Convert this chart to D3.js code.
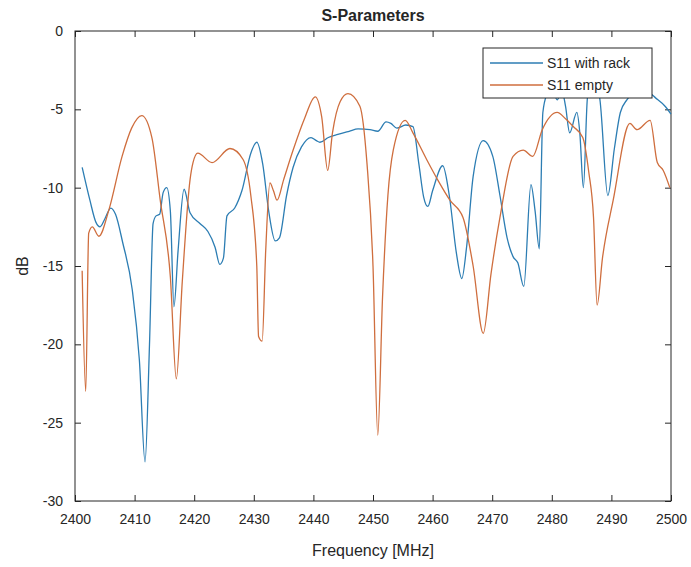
<!DOCTYPE html>
<html>
<head>
<meta charset="utf-8">
<script src="https://cdn.jsdelivr.net/npm/d3@7"></script>
<style>
  body { margin: 0; background: #fff; }
  text { font-family: "Liberation Sans", Arial, sans-serif; fill: #262626; }
</style>
</head>
<body>
<div class="root"></div>
<script>
// S11 with rack
const rackFreq = [2401.2, 2402.5, 2403.5, 2404.2, 2405, 2406, 2406.8, 2408, 2409.6, 2410.8, 2411.75, 2412.5, 2413.1, 2413.6, 2414.2, 2414.8, 2415.4, 2416, 2416.6, 2417.3, 2418.3, 2419.3, 2421, 2422.3, 2423.5, 2424.3, 2424.9, 2425.5, 2426.8, 2428, 2429.5, 2430.5, 2431.5, 2432.5, 2433.6, 2434.3, 2435.5, 2436.6, 2438, 2439.6, 2440.5, 2441.1, 2442.5, 2444.1, 2446, 2447.5, 2449.5, 2450.8, 2452.2, 2453, 2454, 2455.5, 2456.7, 2457.7, 2458.5, 2459.2, 2460, 2461.7, 2462.8, 2464, 2464.9, 2465.7, 2466.8, 2468.5, 2470.1, 2471.3, 2472.5, 2473.5, 2474.3, 2475.3, 2476.5, 2477.2, 2477.9, 2478.5, 2479.2, 2480, 2480.9, 2481.7, 2482.3, 2483, 2484.2, 2484.7, 2485.3, 2486, 2487, 2488, 2489.4, 2490.5, 2491.5, 2492.6, 2494, 2496, 2497.5, 2499, 2500]
const rackDb = [-8.7, -10.8, -12.2, -12.5, -12.0, -11.3, -11.7, -13.5, -16.5, -21, -27.5, -20, -12.3, -11.8, -11.7, -10.3, -10.0, -11.5, -17.6, -14, -10.1, -11.6, -12.3, -12.8, -13.8, -14.9, -14.5, -11.8, -11.3, -10.2, -7.8, -7.1, -8.5, -11.5, -13.4, -13.2, -10.5, -8.7, -7.4, -6.8, -7.0, -7.1, -6.8, -6.6, -6.4, -6.25, -6.3, -6.4, -5.8, -5.9, -6.2, -6.0, -6.1, -8.5, -10.6, -11.2, -10.2, -8.6, -10.5, -14.2, -15.8, -13.8, -9.3, -7.0, -8.0, -10.5, -13.2, -14.4, -14.8, -16.3, -9.8, -11.5, -13.9, -5.2, -4.0, -3.6, -4.4, -3.8, -4.8, -6.5, -5.2, -6.5, -10.0, -4.2, -3.4, -4.2, -10.5, -7.5, -5.2, -4.4, -3.9, -3.9, -4.3, -4.8, -5.3]

// S11 empty
const emptyFreq = [2401.2, 2401.8, 2402.3, 2402.9, 2404, 2405.7, 2407.9, 2409.5, 2411.2, 2412.9, 2414.3, 2416, 2417, 2418, 2419.3, 2419.8, 2420.6, 2423, 2426, 2428.2, 2429.5, 2430.5, 2430.8, 2431.4, 2432, 2432.7, 2433.3, 2433.9, 2435, 2436.6, 2438.5, 2440.3, 2441.4, 2442.4, 2443.2, 2444.5, 2445.8, 2447.8, 2449, 2450, 2450.8, 2451.6, 2452.5, 2453.4, 2455.4, 2456.7, 2459, 2461, 2462.9, 2465.1, 2466.8, 2468.5, 2469.8, 2471.3, 2473.5, 2475.2, 2476.8, 2478.4, 2480.9, 2482.3, 2483.6, 2485.2, 2486.2, 2487, 2487.6, 2488.5, 2490.3, 2493.1, 2494.3, 2496.5, 2497.7, 2498.7, 2499.8]
const emptyDb = [-15.3, -23.0, -12.9, -12.5, -13.1, -11.4, -8.0, -6.2, -5.4, -6.8, -10.8, -15.7, -22.2, -16, -9.5, -8.4, -7.8, -8.4, -7.5, -8.2, -10.5, -15, -19.5, -19.8, -14, -9.7, -10.2, -10.8, -9.5, -7.6, -5.6, -4.2, -5.5, -8.9, -6.5, -4.5, -4.0, -4.8, -8.5, -15, -25.8, -17, -10.5, -7.6, -5.7, -6.5, -8.2, -9.6, -10.8, -11.9, -15, -19.3, -15.5, -11.9, -8.0, -7.6, -8.0, -6.3, -5.2, -5.6, -6.1, -6.8, -9.0, -11.9, -17.5, -14.5, -10.8, -5.9, -6.3, -5.7, -8.4, -8.9, -10.0]

const xTicks = [2400, 2410, 2420, 2430, 2440, 2450, 2460, 2470, 2480, 2490, 2500]
const yTicks = [0, -5, -10, -15, -20, -25, -30]
const seriesNames = ['S11 with rack', 'S11 empty']
const seriesColors = ['#2c7db3', '#cf6e3e']

const margin = { top: 31, right: 20, bottom: 66, left: 75 }
const svgWidth = 691
    , svgHeight = 567
    , graphWidth = svgWidth - margin.left - margin.right
    , graphHeight = svgHeight - margin.top - margin.bottom

const svg = d3.select('.root')
              .append('svg')
              .attr('width', svgWidth)
              .attr('height', svgHeight)

const canvas = svg.append('g')
                  .attr('transform', `translate(${margin.left}, ${margin.top})`)

const scaleX = d3.scaleLinear().domain([2400, 2500]).range([0, graphWidth])
const scaleY = d3.scaleLinear().domain([-30, 0]).range([graphHeight, 0])

// axes, MATLAB style: ticks inward on all four sides
const tickLen = 6
const plain = d => String(d)   // plain hyphen minus like MATLAB
const styleAxis = g => {
  g.select('.domain').remove()
  g.selectAll('line').attr('stroke', '#262626')
  g.selectAll('text').style('font-size', '14px').attr('fill', '#333')
}

canvas.append('g')
      .attr('transform', `translate(0, ${graphHeight})`)
      .call(d3.axisBottom(scaleX).tickValues(xTicks).tickFormat(plain).tickSize(-tickLen).tickPadding(13))
      .call(styleAxis)

canvas.append('g')
      .call(d3.axisTop(scaleX).tickValues(xTicks).tickFormat('').tickSize(-tickLen))
      .call(styleAxis)

canvas.append('g')
      .call(d3.axisLeft(scaleY).tickValues(yTicks).tickFormat(plain).tickSize(-tickLen).tickPadding(12))
      .call(styleAxis)

canvas.append('g')
      .attr('transform', `translate(${graphWidth}, 0)`)
      .call(d3.axisRight(scaleY).tickValues(yTicks).tickFormat('').tickSize(-tickLen))
      .call(styleAxis)

canvas.append('rect')
      .attr('width', graphWidth)
      .attr('height', graphHeight)
      .attr('fill', 'none')
      .attr('stroke', '#262626')
      .attr('stroke-width', 1)

// curves
const line = d3.line()
               .x(d => scaleX(d[0]))
               .y(d => scaleY(d[1]))
               .curve(d3.curveMonotoneX)

const series = [
  d3.zip(rackFreq, rackDb),
  d3.zip(emptyFreq, emptyDb)
]

canvas.append('g')
      .selectAll('path')
      .data(series)
      .enter()
      .append('path')
      .attr('d', line)
      .attr('fill', 'none')
      .attr('stroke', (d, i) => seriesColors[i])
      .attr('stroke-width', 1.3)

// legend
const legend = svg.append('g').attr('transform', 'translate(483, 48)')
legend.append('rect')
      .attr('width', 169)
      .attr('height', 50)
      .attr('fill', '#fff')
      .attr('stroke', '#262626')

seriesNames.forEach((name, i) => {
  const y = 15 + i * 22
  legend.append('line')
        .attr('x1', 7).attr('x2', 60)
        .attr('y1', y).attr('y2', y)
        .attr('stroke', seriesColors[i])
        .attr('stroke-width', 1.3)
  legend.append('text')
        .attr('x', 64).attr('y', y + 5)
        .style('font-size', '14px')
        .text(name)
})

// labels
svg.append('text')
   .attr('x', margin.left + graphWidth / 2)
   .attr('y', 21)
   .attr('text-anchor', 'middle')
   .style('font-size', '16px')
   .style('font-weight', 'bold')
   .text('S-Parameters')

svg.append('text')
   .attr('x', margin.left + graphWidth / 2)
   .attr('y', 556)
   .attr('text-anchor', 'middle')
   .style('font-size', '16px')
   .attr('fill', '#333')
   .text('Frequency [MHz]')

svg.append('text')
   .attr('transform', `translate(28, ${margin.top + graphHeight / 2}) rotate(-90)`)
   .attr('text-anchor', 'middle')
   .style('font-size', '16px')
   .attr('fill', '#333')
   .text('dB')
</script>
</body>
</html>
